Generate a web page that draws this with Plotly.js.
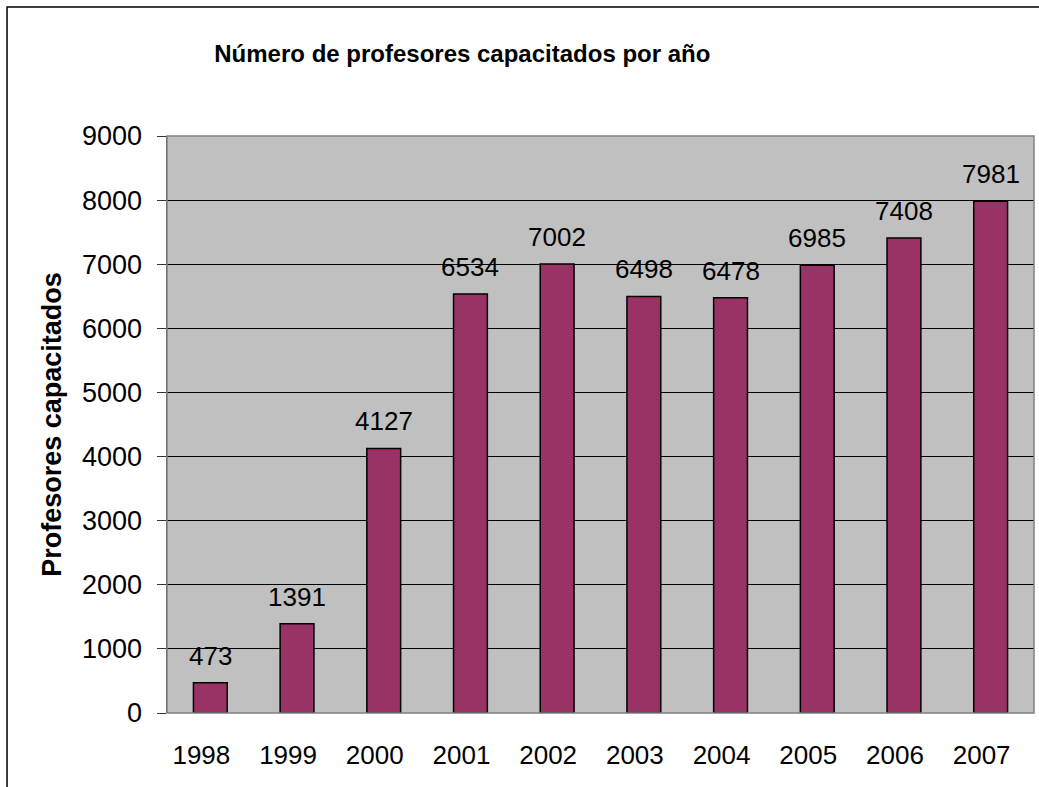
<!DOCTYPE html>
<html>
<head>
<meta charset="utf-8">
<script src="https://cdn.plot.ly/plotly-3.0.1.min.js"></script>
<style>html,body{margin:0;padding:0;background:#fff;}#chart{width:1039px;height:787px;}</style>
</head>
<body>
<div id="chart"></div>
<script>
const years = ['1998','1999','2000','2001','2002','2003','2004','2005','2006','2007'];
const teachers = [473, 1391, 4127, 6534, 7002, 6498, 6478, 6985, 7408, 7981];
const chartTitle = 'Número de profesores capacitados por año';
const yTitle = 'Profesores capacitados';

const font = 'Liberation Sans, Arial, sans-serif';

const trace = {
  type: 'bar',
  x: years,
  y: teachers,
  marker: {color: '#993366', line: {color: '#000000', width: 1.5}},
  hoverinfo: 'x+y'
};

const annotations = years.map((yr, i) => ({
  x: i, y: teachers[i], xref: 'x', yref: 'y',
  text: String(teachers[i]), showarrow: false,
  yanchor: 'bottom', yshift: 10,
  font: {family: font, size: 26, color: '#000'}
}));

const layout = {
  width: 1039, height: 787,
  margin: {l: 167, r: 5, t: 136, b: 74},
  paper_bgcolor: '#ffffff',
  plot_bgcolor: '#c0c0c0',
  bargap: 0.61,
  showlegend: false,
  title: {text: '<b>' + chartTitle + '</b>', x: 0.445, xanchor: 'center', y: 0.932, yanchor: 'middle',
          font: {family: font, size: 24, color: '#000'}},
  xaxis: {
    type: 'category',
    categoryarray: years,
    range: [-0.5, years.length - 0.5],
    autorange: false,
    showgrid: false, zeroline: false,
    showline: false,
    ticks: '',
    ticklabelstandoff: 24,
    ticklabelshift: -9,
    tickfont: {family: font, size: 26, color: '#000'}
  },
  yaxis: {
    range: [0, 9000], autorange: false, dtick: 1000, tick0: 0,
    showgrid: true, gridcolor: '#000000', gridwidth: 1,
    zeroline: false,
    showline: true, linecolor: '#555555', linewidth: 1.5,
    ticks: 'outside', ticklen: 9, tickcolor: '#333333', tickwidth: 1,
    ticklabelstandoff: 9,
    tickfont: {family: font, size: 27, color: '#000'},
    title: {text: '<b>' + yTitle + '</b>', standoff: 12, font: {family: font, size: 27, color: '#000'}}
  },
  annotations: annotations,
  shapes: [
    {type: 'rect', xref: 'paper', yref: 'paper', x0: 0, x1: 1, y0: 0, y1: 1,
     line: {color: '#808080', width: 1.5}, fillcolor: 'rgba(0,0,0,0)', layer: 'above'},
    {type: 'rect', xref: 'paper', yref: 'paper', x0: -0.1845, x1: 1.2, y0: -0.5, y1: 1.2236,
     line: {color: '#000000', width: 1.5}, fillcolor: 'rgba(0,0,0,0)'}
  ]
};

Plotly.newPlot('chart', [trace], layout, {displayModeBar: false, staticPlot: true});
</script>
</body>
</html>
